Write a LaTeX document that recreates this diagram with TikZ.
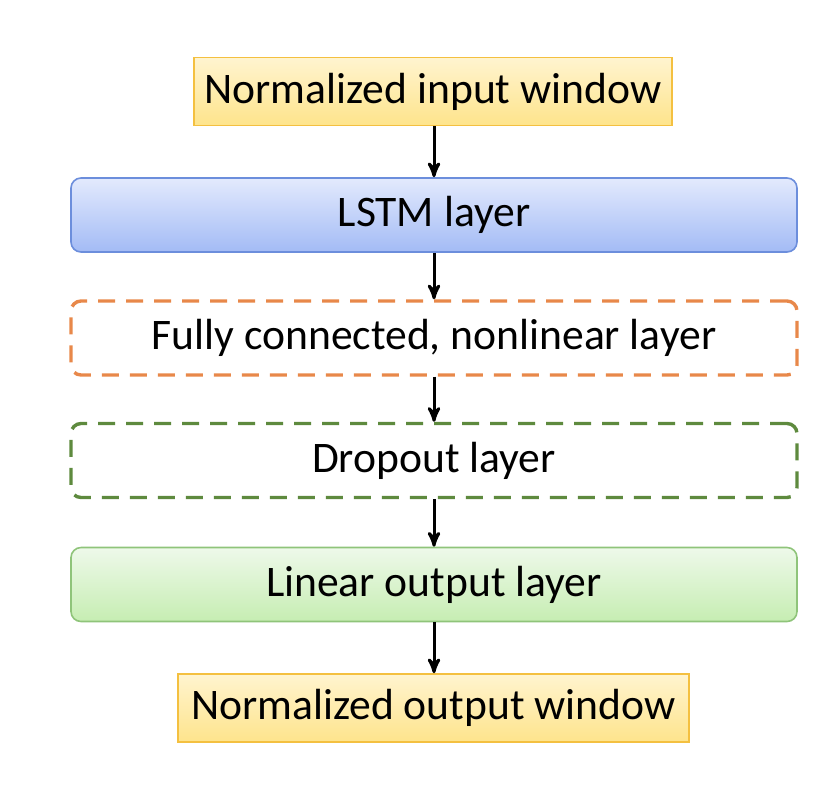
\documentclass[tikz,border=0pt]{standalone}
\usepackage{fontspec}
\setmainfont{Carlito}
\usetikzlibrary{arrows}

\definecolor{winfill}{HTML}{FFF4CF}
\definecolor{winfillb}{HTML}{FEE48C}
\definecolor{winline}{HTML}{F4C040}
\definecolor{lstmfill}{HTML}{E3EAFD}
\definecolor{lstmfillb}{HTML}{A3BBF5}
\definecolor{lstmline}{HTML}{6C8EDC}
\definecolor{fcline}{HTML}{E8884A}
\definecolor{dropline}{HTML}{5E8A3E}
\definecolor{linfill}{HTML}{EEF9EA}
\definecolor{linfillb}{HTML}{C6EDB2}
\definecolor{linline}{HTML}{8FC47A}

\begin{document}
\begin{tikzpicture}[x=0.5pt,y=-0.5pt,>=stealth',auto]
  \tikzset{every node/.style={font=\fontsize{21.8}{26}\selectfont,inner sep=0pt},
    window/.style={draw=winline,line width=0.8pt,top color=winfill,bottom color=winfillb,
      minimum height=34pt},
    layer/.style={rounded corners=5pt,minimum width=363pt,minimum height=37pt},
    lstmbox/.style={layer,draw=lstmline,line width=0.8pt,top color=lstmfill,bottom color=lstmfillb},
    fcbox/.style={layer,draw=fcline,line width=1.7pt,dash pattern=on 8.5pt off 5.5pt},
    dropbox/.style={layer,draw=dropline,line width=1.7pt,dash pattern=on 8.5pt off 5.5pt},
    linbox/.style={layer,draw=linline,line width=0.8pt,top color=linfill,bottom color=linfillb}}
  \useasboundingbox (0,0) rectangle (838,788);
  \node[window,minimum width=239pt] (in) at (433, 91.5) {Normalized input window};
  \node[lstmbox] (lstm) at (434, 215) {LSTM layer};
  \node[fcbox] (fc) at (434, 338) {Fully connected, nonlinear layer};
  \node[dropbox] (drop) at (434, 460.5) {Dropout layer};
  \node[linbox] (lin) at (434, 584.5) {Linear output layer};
  \node[window,minimum width=255.5pt] (out) at (433.5, 708) {Normalized output window};
  \path[->,line width=1.5pt] (in.south -| lstm.north) edge (lstm.north);
  \path[->,line width=1.5pt] (lstm) edge (fc);
  \path[->,line width=1.5pt] (fc) edge (drop);
  \path[->,line width=1.5pt] (drop) edge (lin);
  \path[->,line width=1.5pt] (lin.south) edge (lin.south |- out.north);
\end{tikzpicture}
\end{document}
